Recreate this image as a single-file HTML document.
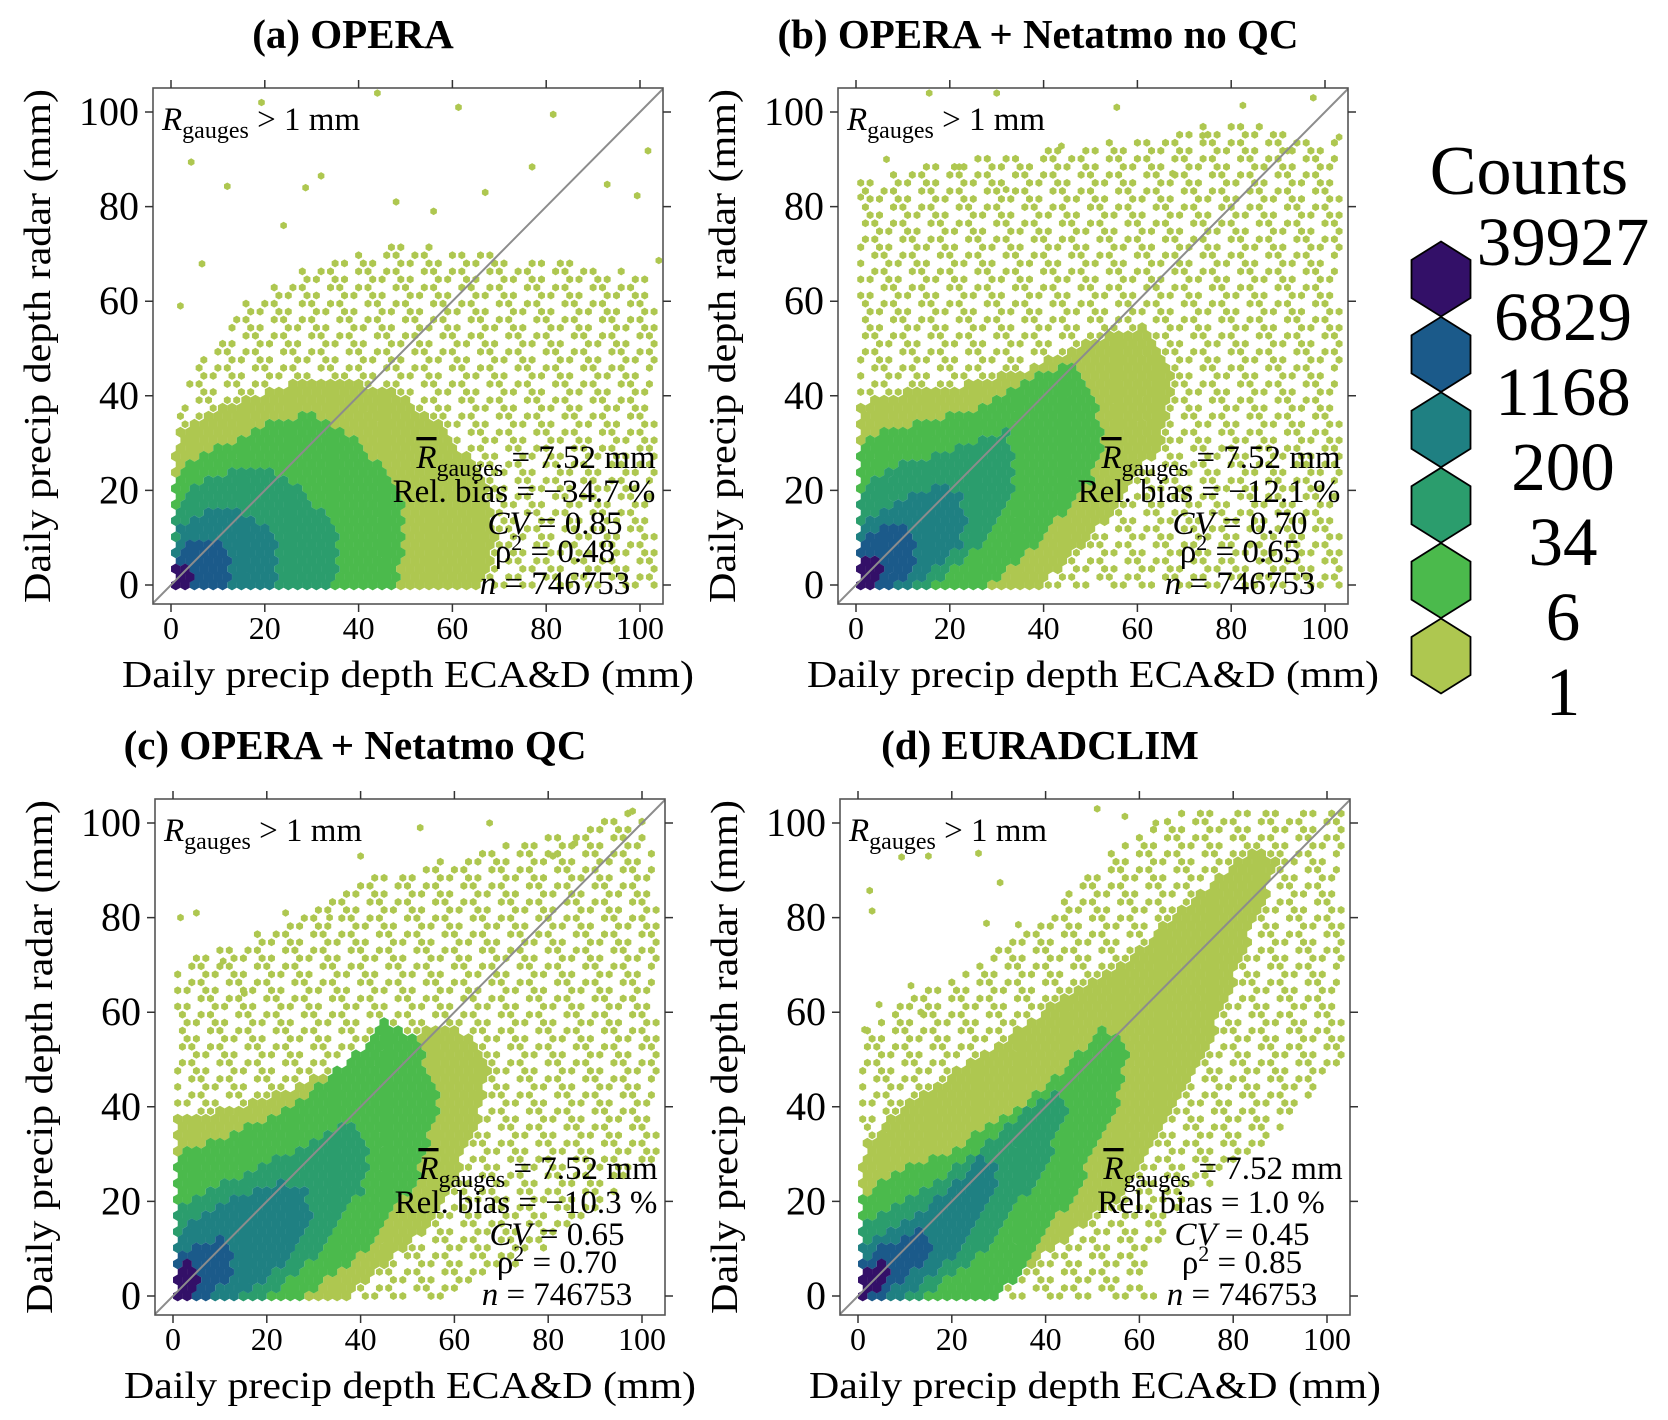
<!DOCTYPE html>
<html><head><meta charset="utf-8"><style>
html,body{margin:0;padding:0;background:#fff;}
svg{display:block;font-family:"Liberation Serif","DejaVu Serif",serif;}
</style></head><body>
<svg id="fig" width="1668" height="1420" viewBox="0 0 1668 1420" xmlns="http://www.w3.org/2000/svg">
<rect x="0" y="0" width="1668" height="1420" fill="#fff"/>
<g id="legend">
 <text x="1529" y="194" font-size="70" text-anchor="middle">Counts</text>
</g>
</svg>
<script>
// ---------- data (data units: mm) ----------
const tickValues = [0, 20, 40, 60, 80, 100];
const tickLabels = ["0", "20", "40", "60", "80", "100"];
const legendLabels = ["39927", "6829", "1168", "200", "34", "6", "1"];
const levelColors = ["#aec750", "#4bba4c", "#2b9d6d", "#1f8082", "#1b5a8a", "#331068"];
const panelTitles = ["(a) OPERA", "(b) OPERA + Netatmo no QC", "(c) OPERA + Netatmo QC", "(d) EURADCLIM"];
const relBias = ["\u221234.7 %", "\u221212.1 %", "\u221210.3 %", "1.0 %"];
const cvValues = ["0.85", "0.70", "0.65", "0.45"];
const rho2Values = ["0.48", "0.65", "0.70", "0.85"];
const nValues = ["746753", "746753", "746753", "746753"];
const meanGauges = ["7.52", "7.52", "7.52", "7.52"];

// Panel (a) density-level regions
const aYellow = [[0.5,0],[66,0],[70,10],[66,24],[57,35],[47,41],[35,44],[22,42],[10,37],[2,33],[0.5,28]];
const aGreen = [[0.5,0],[48,0],[50,8],[49,18],[45,25],[38,32],[30,36],[22,35],[12,30],[4,26],[0.5,23]];
const aSea = [[0.5,0],[35,0],[36,8],[34,14],[28,20],[20,25],[12,24],[5,21],[0.5,15]];
const aTeal = [[0.5,0],[22,0],[23,5],[22,10],[18,14],[12,16],[6,15],[2,12],[0.5,8]];
const aBlue = [[0.5,0],[12,0],[12.8,4],[12,8],[9,9.3],[3,9],[0.5,6]];
const aPurple = [[0.5,0],[5,0],[5.5,2.5],[4,4.5],[2,4.5],[0.5,3]];
const aSparse = [[0.5,0],[0.5,35],[5,45],[15,60],[30,68],[50,72],[70,70],[90,68],[104,65],[104,0]];
const aOutliers = [[4.3,89.4],[12,84.3],[19.3,102],[61.3,101],[44,104],[81.5,99.5],[101.7,91.8],[32,86.5],[67,83],[93,84.7],[99.4,82.3],[6.6,67.9],[28.7,84],[48,81],[77,88.4],[2,59],[104,68.6],[24,76],[56,79]];

// Panel (b)
const bYellow = [[0.5,0],[40,0],[55,15],[65,30],[68,45],[62,55],[50,52],[35,45],[20,42],[5,40],[0.5,38]];
const bGreen = [[0.5,0],[28,0],[40,10],[50,22],[53,32],[50,42],[45,47],[38,44],[28,38],[15,35],[5,32],[0.5,30]];
const bSea = [[0.5,0],[17,0],[28,10],[34,20],[34,28],[32,33],[27,31],[18,28],[8,25],[2,22],[0.5,18]];
const bTeal = [[0.5,0],[12,0],[22,8],[24,14],[22,19],[18,21],[12,19],[5,16],[0.5,12]];
const bBlue = [[0.5,0],[8,0],[13,4],[13,10],[11,12.6],[6,12],[2,10],[0.5,6]];
const bPurple = [[0.5,0],[5,0],[5.5,4],[4,5.4],[1.5,5.4],[0.5,3]];
const bSparse = [[0.5,0],[0.5,85],[20,90],[50,93],[80,98],[104,94],[104,0]];
const bOutliers = [[1,82],[6.5,90],[15.6,104],[22,88.4],[32,83.6],[43.8,92.8],[55.6,101],[73.9,95],[82.5,101.4],[97.5,103],[103,94.7],[92,91.8],[30,104],[67.5,87]];

// Panel (c)
const cYellow = [[0.5,0],[38,0],[55,15],[65,35],[68,50],[60,58],[48,55],[35,48],[15,40],[0.5,38]];
const cGreen = [[0.5,0],[28,0],[42,10],[52,25],[57,40],[52,55],[45,58],[38,50],[25,40],[10,33],[0.5,30]];
const cSea = [[0.5,0],[20,0],[32,10],[40,22],[42,32],[38,37],[30,33],[18,27],[6,22],[0.5,18]];
const cTeal = [[0.5,0],[15,0],[25,8],[30,17],[28,23],[22,24],[12,20],[4,16],[0.5,12]];
const cBlue = [[0.5,0],[8,0],[13,5],[13,10],[10,12],[5,11],[0.5,8]];
const cPurple = [[0.5,0],[5,0],[5.5,4],[4,7],[2,7],[0.5,4]];
const cSparse = [[0.5,0],[0.5,70],[15,75],[40,88],[70,95],[100,103],[104,90],[104,30],[80,10],[60,0]];
const cOutliers = [[1.6,80],[5,81],[10.7,70.8],[24,81],[40,93],[52.7,99],[67.5,100],[85.7,95.7],[98,102.5],[15.2,64],[33.4,80],[81,93]];

// Panel (d)
const dYellow = [[0.5,0],[20,0],[35,5],[55,20],[68,40],[78,60],[85,80],[90,92],[84,95],[72,85],[58,72],[42,62],[28,52],[12,42],[2,33],[0.5,28]];
const dGreen = [[0.5,0],[30,0],[35,5],[45,20],[55,38],[58,53],[52,57],[44,48],[32,38],[18,30],[5,25],[0.5,20]];
const dSea = [[0.5,0],[14,0],[28,10],[38,25],[45,38],[42,43],[34,38],[22,28],[10,20],[0.5,15]];
const dTeal = [[0.5,0],[10,0],[22,10],[30,22],[30,28],[26,29],[16,20],[6,13],[0.5,10]];
const dBlue = [[0.5,0],[6,0],[15,8],[16,13],[13,14],[6,11],[0.5,7]];
const dPurple = [[0.5,0],[3,0],[7,4],[7,7.5],[4,7],[0.5,4]];
const dSparse = [[0.5,0],[0.5,55],[10,62],[25,70],[40,80],[55,95],[70,103],[104,103],[104,50],[90,35],[70,20],[60,2],[65,0]];
const dOutliers = [[9.3,92.8],[15,93],[25.7,93.6],[2.5,85.7],[3,81.4],[30.3,87.4],[51,103],[56.9,101.4],[63.5,100],[27.4,78.8],[34.2,78.5],[11.3,65.6],[4.5,61.6],[1.4,56.3],[13.4,60]];

// ---------- layout ----------
const NS = "http://www.w3.org/2000/svg";
const svg = document.getElementById("fig");
const panelOrigins = [[153,88],[838,88],[155,799],[840,799]];
const panelLevels = [
  [aYellow,aGreen,aSea,aTeal,aBlue,aPurple],
  [bYellow,bGreen,bSea,bTeal,bBlue,bPurple],
  [cYellow,cGreen,cSea,cTeal,cBlue,cPurple],
  [dYellow,dGreen,dSea,dTeal,dBlue,dPurple]];
const panelSparse = [aSparse,bSparse,cSparse,dSparse];
const panelOutliers = [aOutliers,bOutliers,cOutliers,dOutliers];
const BW = 510, BH = 516;

function mk(tag, attrs, parent){
  const e = document.createElementNS(NS, tag);
  for (const k in attrs) e.setAttribute(k, attrs[k]);
  (parent||svg).appendChild(e);
  return e;
}
function inPoly(x,y,poly){
  let c=false;
  for(let i=0,j=poly.length-1;i<poly.length;j=i++){
    const xi=poly[i][0], yi=poly[i][1], xj=poly[j][0], yj=poly[j][1];
    if(((yi>y)!==(yj>y)) && (x < (xj-xi)*(y-yi)/(yj-yi)+xi)) c=!c;
  }
  return c;
}
function hexPath(cx,cy,r){
  const h=0.866*r;
  return "M"+cx.toFixed(1)+","+(cy-r).toFixed(1)+"l"+h.toFixed(2)+","+(r/2).toFixed(2)+"v"+r.toFixed(2)+"l"+(-h).toFixed(2)+","+(r/2).toFixed(2)+"l"+(-h).toFixed(2)+","+(-r/2).toFixed(2)+"v"+(-r).toFixed(2)+"z";
}

panelOrigins.forEach(function(o, p){
  const L=o[0], T=o[1], B=T+BH, R=L+BW;
  const sx = v => L + 18 + v*4.69;
  const sy = v => B - 19 - v*4.73;
  const g = mk("g", {});
  
  

  const cp = mk("clipPath", {id:"clip"+p}, g);
  mk("rect", {x:L, y:T, width:BW, height:BH}, cp);
  const hexG = mk("g", {"clip-path":"url(#clip"+p+")"}, g);
  
  

  const paths = ["","","","","",""];
  const lv = panelLevels[p];
  for(let j=0;;j++){
    const y=j*1.7; if(y>105) break;
    for(let i=0;;i++){
      const x=1+2*i+(j%2); if(x>105) break;
      let level=-1;
      for(let k=5;k>=0;k--){ if(inPoly(x,y,lv[k])){level=k;break;} }
      if(level>=0) paths[level]+=hexPath(sx(x),sy(y),5.4);
      else if(inPoly(x,y,panelSparse[p]) && ((i*5+j*3)%7<4)) paths[0]+=hexPath(sx(x),sy(y),4.0);
    }
  }
  panelOutliers[p].forEach(function(pt){ paths[0]+=hexPath(sx(pt[0]),sy(pt[1]),3.8); });
  paths.forEach(function(d,k){
    const e = mk("path", {d:d, fill:levelColors[k]}, hexG);
    
    
  });

  const diag = mk("line", {x1:sx(-4), y1:sy(-4), x2:sx(106), y2:sy(106), stroke:"#8c8c8c", "stroke-width":2, "clip-path":"url(#clip"+p+")"}, g);
  
  

  const box = mk("rect", {x:L, y:T, width:BW, height:BH, fill:"none", stroke:"#555", "stroke-width":1.6}, g);
  
  

  tickValues.forEach(function(v,i){
    const X=sx(v), Y=sy(v);
    const t1 = mk("path", {d:"M"+X+","+B+"v8M"+X+","+T+"v-8M"+L+","+Y+"h-8M"+R+","+Y+"h8", stroke:"#333", "stroke-width":1.5}, g);
    
    
    const xl = mk("text", {x:X, y:B+35, "font-size":32, "text-anchor":"middle"}, g);
    xl.textContent = tickLabels[i];
    
    
    const yl = mk("text", {x:L-14, y:Y+13, "font-size":40, "text-anchor":"end"}, g);
    yl.textContent = tickLabels[i];
    
    
  });

  const xt = mk("text", {x:L+255, y:B+83, "font-size":38, "text-anchor":"middle", textLength:572, lengthAdjust:"spacingAndGlyphs"}, g);
  xt.textContent = "Daily precip depth ECA&D (mm)";
  
  
  const yt = mk("text", {x:0, y:0, "font-size":38, "text-anchor":"middle", textLength:514, lengthAdjust:"spacingAndGlyphs", transform:"translate("+(L-103)+","+(T+258)+") rotate(-90)"}, g);
  yt.textContent = "Daily precip depth radar (mm)";
  
  

  const ti = mk("text", {x:L+200, y:T-40, "font-size":41, "font-weight":"bold", "text-anchor":"middle"}, g);
  ti.textContent = panelTitles[p];
  
  

  const cond = mk("text", {x:L+9, y:T+42, "font-size":33}, g);
  
  
  cond.innerHTML = '<tspan font-style="italic">R</tspan><tspan font-size="24" dy="8">gauges</tspan><tspan dy="-8"> &gt; 1 mm</tspan>';

  const st = mk("g", {"font-size":33, "text-anchor":"middle"}, g);
  
  
  const s1 = mk("text", {x:L+383, y:T+380}, st);
  s1.innerHTML = '<tspan font-style="italic" style="text-decoration:overline">R</tspan><tspan font-size="24" dy="8">gauges</tspan><tspan dy="-8"> = '+meanGauges[p]+' mm</tspan>';
  const s2 = mk("text", {x:L+371, y:T+414}, st);
  s2.textContent = "Rel. bias = " + relBias[p];
  const s3 = mk("text", {x:L+402, y:T+446}, st);
  s3.innerHTML = '<tspan font-style="italic">CV</tspan> = ' + cvValues[p];
  const s4 = mk("text", {x:L+402, y:T+474}, st);
  s4.innerHTML = '\u03C1<tspan font-size="22" dy="-12">2</tspan><tspan dy="12"> = ' + rho2Values[p] + '</tspan>';
  const s5 = mk("text", {x:L+402, y:T+506}, st);
  s5.innerHTML = '<tspan font-style="italic">n</tspan> = ' + nValues[p];
});

// ---------- legend ----------
const lg = document.getElementById("legend");
for(let k=0;k<6;k++){
  const cy = 279 + k*75.4, cx = 1441;
  const d = "M"+cx+","+(cy-37.5)+"L"+(cx+29.5)+","+(cy-19)+"L"+(cx+29.5)+","+(cy+19)+"L"+cx+","+(cy+37.5)+"L"+(cx-29.5)+","+(cy+19)+"L"+(cx-29.5)+","+(cy-19)+"Z";
  const h = mk("path", {d:d, fill:levelColors[5-k], stroke:"#000", "stroke-width":1.8}, lg);
  
  
}
legendLabels.forEach(function(lab,k){
  const t = mk("text", {x:1563, y:265+k*75, "font-size":69, "text-anchor":"middle"}, lg);
  t.textContent = lab;
  
  
});
</script>
</body></html>
